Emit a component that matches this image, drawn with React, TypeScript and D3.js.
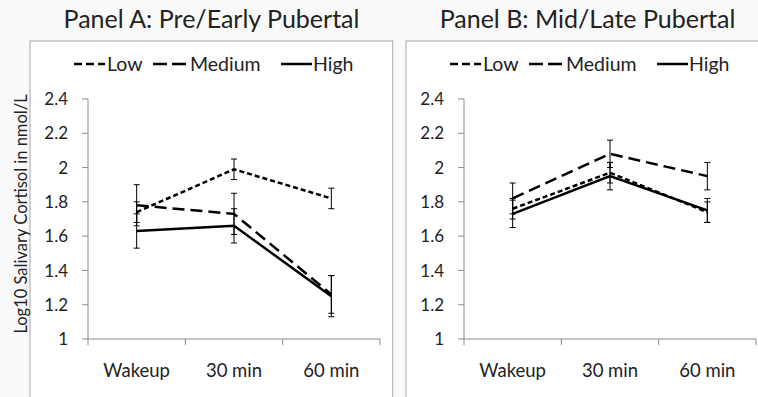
import React from 'react';
import * as d3 from 'd3';

const categories = ['Wakeup', '30 min', '60 min'];
const seriesNames = ['Low', 'Medium', 'High'];
const yTicks = [1, 1.2, 1.4, 1.6, 1.8, 2, 2.2, 2.4];

// Panel A: Pre/Early Pubertal
const aLow = [1.74, 1.99, 1.82];
const aLowErr = [0.06, 0.06, 0.06];
const aMedium = [1.78, 1.73, 1.26];
const aMediumErr = [0.12, 0.12, 0.11];
const aHigh = [1.63, 1.66, 1.25];
const aHighErr = [0.1, 0.1, 0.12];

// Panel B: Mid/Late Pubertal
const bLow = [1.76, 1.97, 1.74];
const bLowErr = [0.06, 0.06, 0.06];
const bMedium = [1.82, 2.08, 1.95];
const bMediumErr = [0.09, 0.08, 0.08];
const bHigh = [1.73, 1.95, 1.75];
const bHighErr = [0.08, 0.08, 0.07];

const FONT = 'Lato, "Open Sans", sans-serif';
const dashes: Record<string, string | undefined> = { Low: '5,3', Medium: '12,6', High: undefined };

interface Series {
  name: string;
  values: number[];
  errors: number[];
}

interface PanelProps {
  dx: number;
  title: string;
  series: Series[];
}

const Panel: React.FC<PanelProps> = ({ dx, title, series }) => {
  const axisX = 88;
  const x = d3.scaleBand<string>().domain(categories).range([axisX, 380]);
  const y = d3.scaleLinear().domain([1, 2.4]).range([339, 99]);
  const cx = (c: string) => x(c)! + x.bandwidth() / 2;
  const line = d3.line<number>()
    .x((_, i) => cx(categories[i]))
    .y(d => y(d));
  const legendX: Record<string, [number, number, number]> = {
    Low: [74, 105, 107],
    Medium: [153, 187, 190],
    High: [281, 312, 313],
  };
  const bounds = [axisX, ...categories.map(c => x(c)! + x.bandwidth())];

  return (
    <g transform={`translate(${dx},0)`}>
      <rect x={30} y={41} width={362.7} height={370} fill="#fff" stroke="#b4b4b4" strokeWidth={1.2} />
      <text x={211.5} y={28} textAnchor="middle" fontSize={25} fill="#222">{title}</text>

      {/* legend */}
      {seriesNames.map(n => (
        <g key={n}>
          <line x1={legendX[n][0]} x2={legendX[n][1]} y1={64} y2={64} stroke="#000" strokeWidth={2.5}
            strokeDasharray={n === 'Low' ? '8,4' : n === 'Medium' ? '14,5' : undefined} />
          <text x={legendX[n][2]} y={64} dy="0.35em" fontSize={19.5} fill="#222">{n}</text>
        </g>
      ))}

      {/* y axis */}
      <line x1={axisX} x2={axisX} y1={y(2.4)} y2={y(1)} stroke="#8c8c8c" />
      {yTicks.map(t => (
        <g key={t}>
          <line x1={axisX - 6} x2={axisX} y1={y(t)} y2={y(t)} stroke="#8c8c8c" />
          <text x={68} y={y(t)} dy="0.36em" textAnchor="end" fontSize={17} fill="#222">{d3.format('')(+t.toFixed(1))}</text>
        </g>
      ))}

      {/* x axis */}
      <line x1={axisX} x2={380} y1={y(1)} y2={y(1)} stroke="#8c8c8c" />
      {bounds.map(b => (
        <line key={b} x1={b} x2={b} y1={y(1)} y2={y(1) + 6} stroke="#8c8c8c" />
      ))}
      {categories.map(c => (
        <text key={c} x={cx(c)} y={377} textAnchor="middle" fontSize={18.5} fill="#222">{c}</text>
      ))}

      {/* error bars */}
      {series.map(s => (
        <g key={s.name + 'err'}>
          {s.values.map((v, i) => {
            const px = cx(categories[i]);
            const lo = y(v - s.errors[i]);
            const hi = y(v + s.errors[i]);
            return (
              <g key={i} stroke="#000" strokeWidth={1}>
                <line x1={px} x2={px} y1={lo} y2={hi} />
                <line x1={px - 3} x2={px + 3} y1={lo} y2={lo} />
                <line x1={px - 3} x2={px + 3} y1={hi} y2={hi} />
              </g>
            );
          })}
        </g>
      ))}

      {/* lines */}
      {series.map(s => (
        <path key={s.name} d={line(s.values)!} fill="none" stroke="#000" strokeWidth={2.5}
          strokeDasharray={dashes[s.name]} />
      ))}
    </g>
  );
};

export default function App() {
  const panelA: Series[] = [
    { name: 'Low', values: aLow, errors: aLowErr },
    { name: 'Medium', values: aMedium, errors: aMediumErr },
    { name: 'High', values: aHigh, errors: aHighErr },
  ];
  const panelB: Series[] = [
    { name: 'Low', values: bLow, errors: bLowErr },
    { name: 'Medium', values: bMedium, errors: bMediumErr },
    { name: 'High', values: bHigh, errors: bHighErr },
  ];
  return (
    <div style={{ position: 'fixed', left: 0, top: 0 }}>
      <svg width={758} height={397} style={{ display: 'block', fontFamily: FONT }}>
        <rect width={758} height={397} fill="#f9f9f9" />
        <Panel dx={0} title="Panel A: Pre/Early Pubertal" series={panelA} />
        <Panel dx={376} title="Panel B: Mid/Late Pubertal" series={panelB} />
        <text transform="translate(21,214) rotate(-90)" textAnchor="middle" dy="0.35em" fontSize={16.5} fill="#222">
          Log10 Salivary Cortisol in nmol/L
        </text>
      </svg>
    </div>
  );
}
